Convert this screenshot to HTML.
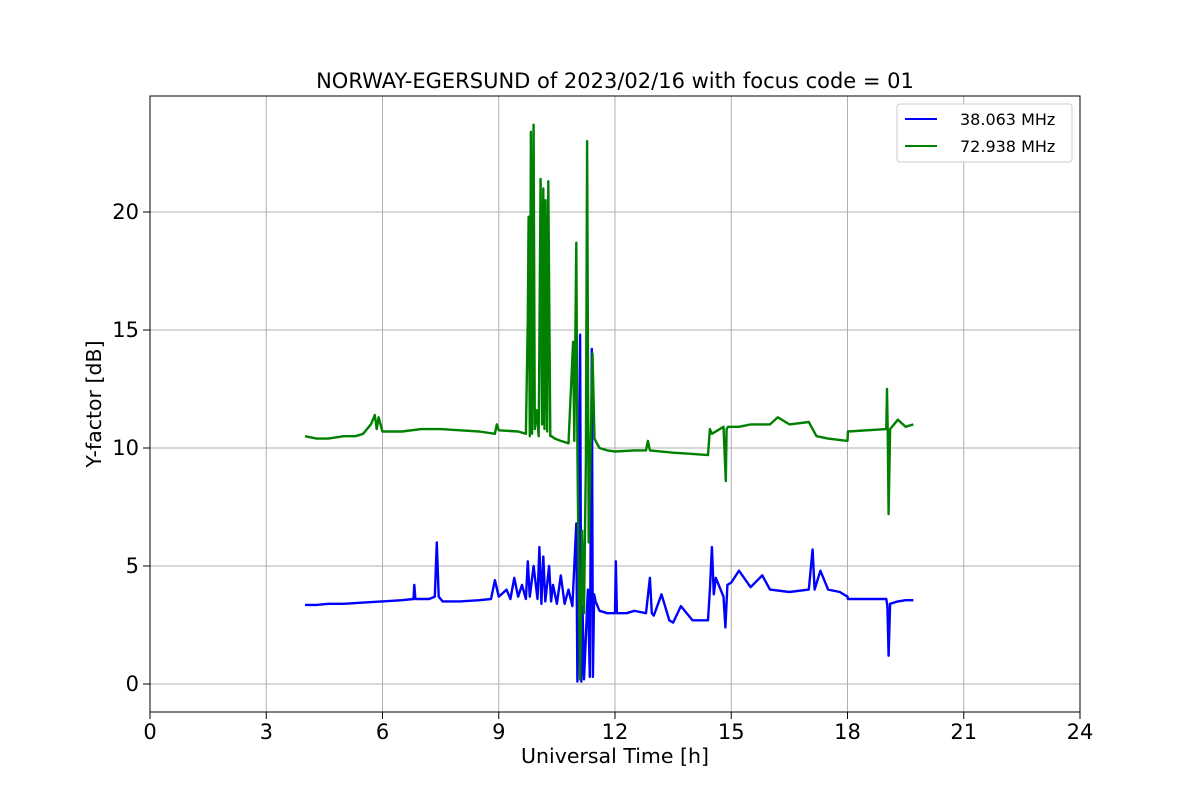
<!DOCTYPE html>
<html><head><meta charset="utf-8">
<style>
body{margin:0;background:#fff;font-family:"Liberation Sans","DejaVu Sans",sans-serif;}
svg text{font-family:"DejaVu Sans","Liberation Sans",sans-serif;}
</style></head>
<body>
<svg id="chart" width="1200" height="800" xmlns="http://www.w3.org/2000/svg">
<rect width="1200" height="800" fill="#fff"/>
<g id="grid"></g>
<g id="series"></g>
<rect x="150" y="96" width="930" height="616" fill="none" stroke="#000" stroke-width="1"/>
<g id="axes"></g>
<text x="615" y="88" font-size="21" text-anchor="middle">NORWAY-EGERSUND of 2023/02/16 with focus code = 01</text>
<text x="615" y="763" font-size="20.5" text-anchor="middle">Universal Time [h]</text>
<text transform="translate(101,404) rotate(-90)" font-size="20.5" text-anchor="middle">Y-factor [dB]</text>
<g>
<rect x="897" y="104" width="175" height="58" rx="3" fill="#fff" stroke="#ccc"/>
<line x1="905" y1="119" x2="937" y2="119" stroke="#0000ff" stroke-width="2"/>
<text x="960" y="125" font-size="16">38.063 MHz</text>
<line x1="905" y1="146" x2="937" y2="146" stroke="#008000" stroke-width="2"/>
<text x="960" y="152" font-size="16">72.938 MHz</text>
</g>
</svg>
<script>
const xTicks=[0,3,6,9,12,15,18,21,24];
const yTicks=[0,5,10,15,20];
const blueT=[4.0,4.3,4.6,5.0,5.5,6.0,6.5,6.8,6.82,6.85,7.2,7.35,7.4,7.45,7.55,8.0,8.5,8.8,8.9,9.0,9.2,9.3,9.4,9.5,9.6,9.7,9.75,9.8,9.9,10.0,10.05,10.1,10.15,10.2,10.3,10.35,10.4,10.5,10.6,10.7,10.8,10.9,11.0,11.03,11.06,11.1,11.13,11.16,11.2,11.3,11.35,11.4,11.43,11.46,11.5,11.6,11.8,12.0,12.02,12.05,12.3,12.5,12.8,12.9,12.95,13.0,13.2,13.4,13.5,13.7,14.0,14.4,14.45,14.5,14.55,14.6,14.8,14.85,14.9,15.0,15.2,15.5,15.8,16.0,16.5,17.0,17.1,17.15,17.3,17.5,17.8,18.0,18.01,19.0,19.03,19.06,19.1,19.3,19.5,19.7];
const blueV=[3.35,3.35,3.4,3.4,3.45,3.5,3.55,3.6,4.2,3.6,3.6,3.7,6.0,3.7,3.5,3.5,3.55,3.6,4.4,3.7,4.0,3.6,4.5,3.7,4.2,3.6,5.2,3.7,5.0,3.6,5.8,3.4,5.4,3.5,5.0,3.5,4.2,3.4,4.6,3.4,4.0,3.3,6.8,0.1,3.5,14.8,0.1,3.3,0.2,4.0,0.3,14.2,0.3,3.8,3.5,3.1,3.0,3.0,5.2,3.0,3.0,3.1,3.0,4.5,3.0,2.9,3.8,2.7,2.6,3.3,2.7,2.7,4.0,5.8,3.8,4.5,3.7,2.4,4.2,4.3,4.8,4.1,4.6,4.0,3.9,4.0,5.7,4.0,4.8,4.0,3.9,3.7,3.6,3.6,3.3,1.2,3.4,3.5,3.55,3.55];
const greenT=[4.0,4.3,4.6,5.0,5.3,5.5,5.7,5.8,5.85,5.9,6.0,6.5,7.0,7.5,8.0,8.5,8.9,8.95,9.0,9.5,9.7,9.75,9.77,9.8,9.83,9.86,9.9,9.93,9.98,10.03,10.08,10.12,10.15,10.18,10.21,10.25,10.28,10.33,10.36,10.45,10.6,10.8,10.92,10.95,11.0,11.03,11.06,11.1,11.15,11.2,11.25,11.28,11.32,11.37,11.42,11.47,11.5,11.6,11.8,12.0,12.5,12.8,12.85,12.9,13.5,14.0,14.4,14.45,14.5,14.8,14.86,14.88,14.92,15.2,15.5,16.0,16.2,16.5,17.0,17.2,17.5,18.0,18.01,19.0,19.02,19.04,19.06,19.1,19.3,19.5,19.7];
const greenV=[10.5,10.4,10.4,10.5,10.5,10.6,11.0,11.4,10.8,11.3,10.7,10.7,10.8,10.8,10.75,10.7,10.6,11.0,10.75,10.7,10.6,15.5,19.8,10.5,23.4,10.6,23.7,10.8,11.6,10.5,21.4,11.0,21.0,10.8,20.5,10.7,21.3,10.5,10.5,10.4,10.3,10.2,14.5,10.3,18.7,10.0,5.0,0.2,6.5,3.0,9.5,23.0,6.0,10.0,14.0,10.4,10.3,10.0,9.9,9.85,9.9,9.9,10.3,9.9,9.8,9.75,9.7,10.8,10.6,10.9,8.6,10.8,10.9,10.9,11.0,11.0,11.3,11.0,11.1,10.5,10.4,10.3,10.7,10.8,12.5,10.5,7.2,10.8,11.2,10.9,11.0];
const X=t=>150+t*38.75;
const Y=v=>684-v*23.6;
const NS="http://www.w3.org/2000/svg";
const grid=document.getElementById('grid'),axes=document.getElementById('axes'),ser=document.getElementById('series');
function mk(tag,attrs,parent){const e=document.createElementNS(NS,tag);for(const k in attrs)e.setAttribute(k,attrs[k]);parent.appendChild(e);return e;}
xTicks.forEach(t=>{
 const g=mk('line',{x1:X(t),x2:X(t),y1:96,y2:712,stroke:'#b0b0b0','stroke-width':1},grid);
 
 
 const tk=mk('line',{x1:X(t),x2:X(t),y1:712,y2:719,stroke:'#000'},axes);
 
 
 const tx=mk('text',{x:X(t),y:739,'font-size':21,'text-anchor':'middle'},axes);
 tx.textContent=t;
 
 
});
yTicks.forEach(v=>{
 const g=mk('line',{x1:150,x2:1080,y1:Y(v),y2:Y(v),stroke:'#b0b0b0','stroke-width':1},grid);
 
 
 const tk=mk('line',{x1:143,x2:150,y1:Y(v),y2:Y(v),stroke:'#000'},axes);
 
 
 const tx=mk('text',{x:139,y:Y(v)+7,'font-size':21,'text-anchor':'end'},axes);
 tx.textContent=v;
 
 
});
function line(ts,vs,color,name){
 const d=ts.map((t,i)=>(i?'L':'M')+X(t).toFixed(1)+','+Y(vs[i]).toFixed(1)).join('');
 const p=mk('path',{d:d,fill:'none',stroke:color,'stroke-width':2.4,'stroke-linejoin':'round'},ser);
 
 
}
line(blueT,blueV,'#0000ff','series-38mhz');
line(greenT,greenV,'#008000','series-72mhz');
</script>
</body></html>
